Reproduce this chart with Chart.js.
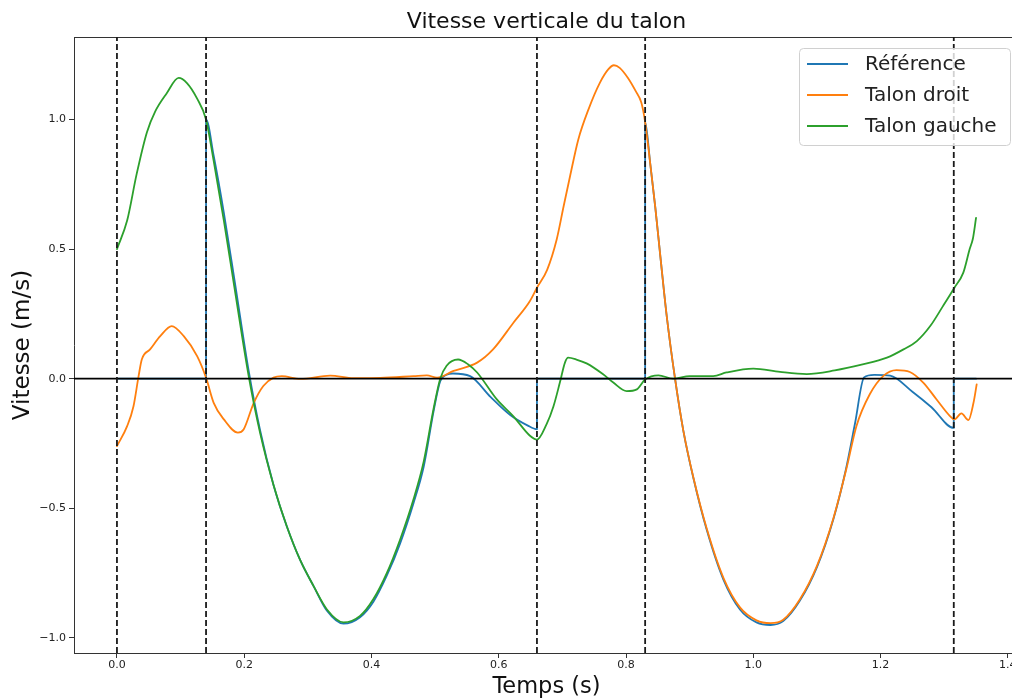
<!DOCTYPE html>
<html><head><meta charset="utf-8">
<script src="https://cdn.jsdelivr.net/npm/chart.js@4.4.0/dist/chart.umd.min.js"></script>
<style>
html,body{margin:0;padding:0;background:#fff;overflow:hidden;width:1012px;height:698px}
#wrap{position:absolute;left:0;top:0;width:1030px;height:698px}
</style>
</head><body><div id="wrap"><canvas id="c" width="1030" height="698"></canvas></div>
<script>
// ---- data ----
const chartTitle = 'Vitesse verticale du talon';
const xTitle = 'Temps (s)';
const yTitle = 'Vitesse (m/s)';
const seriesLabels = ['Référence', 'Talon droit', 'Talon gauche'];
const xTicks = [0.0, 0.2, 0.4, 0.6, 0.8, 1.0, 1.2, 1.4];
const yTicks = [-1.0, -0.5, 0.0, 0.5, 1.0];
const eventTimes = [0, 0.14, 0.66, 0.83, 1.315];
const zeroLevel = 0;

const tRef = [0, 0.14, 0.14, 0.152, 0.168, 0.186, 0.207, 0.225, 0.246, 0.267, 0.288, 0.309, 0.330, 0.356, 0.382, 0.403, 0.424, 0.445, 0.466, 0.482, 0.498, 0.508, 0.518, 0.528, 0.555, 0.587, 0.618, 0.645, 0.66,
  0.66, 0.83, 0.83, 0.838, 0.846, 0.854, 0.864, 0.877, 0.89, 0.906, 0.927, 0.953, 0.979, 1.005, 1.027, 1.047, 1.073, 1.10, 1.126, 1.145, 1.16, 1.174, 1.19, 1.215, 1.25, 1.28, 1.315, 1.315, 1.35];
const vRef = [0, 0, 1.0, 0.86, 0.64, 0.36, 0.03, -0.20, -0.41, -0.57, -0.70, -0.80, -0.895, -0.945, -0.92, -0.86, -0.76, -0.635, -0.48, -0.34, -0.12, -0.01, 0.015, 0.02, 0.01, -0.07, -0.14, -0.18, -0.195,
  0, 0, 0.99, 0.83, 0.66, 0.47, 0.24, 0.0, -0.20, -0.385, -0.585, -0.775, -0.89, -0.94, -0.95, -0.935, -0.857, -0.727, -0.54, -0.355, -0.17, 0.005, 0.015, 0.012, -0.05, -0.11, -0.19, 0, 0];

const tDroit = [0, 0.016, 0.026, 0.034, 0.039, 0.052, 0.068, 0.086, 0.105, 0.126, 0.14, 0.152, 0.168, 0.19, 0.199, 0.215, 0.23, 0.246, 0.259, 0.288, 0.335, 0.372, 0.414, 0.466, 0.487, 0.503, 0.529, 0.566, 0.591, 0.623, 0.649, 0.66, 0.676, 0.691, 0.702, 0.712, 0.725, 0.741, 0.759, 0.772, 0.781, 0.79, 0.803, 0.815, 0.824, 0.83,
  0.838, 0.846, 0.854, 0.864, 0.877, 0.89, 0.906, 0.927, 0.953, 0.979, 1.005, 1.027, 1.047, 1.073, 1.10, 1.126, 1.147, 1.162, 1.183, 1.204, 1.225, 1.246, 1.267, 1.288, 1.309, 1.316, 1.327, 1.338, 1.346, 1.351];
const vDroit = [-0.26, -0.183, -0.106, 0.01, 0.074, 0.113, 0.164, 0.203, 0.164, 0.087, 0.004, -0.093, -0.157, -0.208, -0.196, -0.093, -0.028, 0.004, 0.01, -0.001, 0.012, 0.002, 0.003, 0.01, 0.013, 0.004, 0.03, 0.062, 0.113, 0.216, 0.30, 0.351, 0.42, 0.537, 0.666, 0.781, 0.923, 1.039, 1.142, 1.193, 1.209, 1.199, 1.16, 1.11, 1.065, 0.99,
  0.83, 0.66, 0.47, 0.24, 0.0, -0.20, -0.383, -0.58, -0.768, -0.882, -0.932, -0.943, -0.93, -0.852, -0.722, -0.537, -0.34, -0.183, -0.06, 0.01, 0.033, 0.026, -0.015, -0.08, -0.144, -0.157, -0.134, -0.16, -0.093, -0.022];

const tGauche = [0, 0.016, 0.031, 0.047, 0.060, 0.078, 0.097, 0.110, 0.126, 0.14, 0.152, 0.168, 0.186, 0.207, 0.225, 0.246, 0.267, 0.288, 0.309, 0.330, 0.356, 0.382, 0.403, 0.424, 0.445, 0.466, 0.482, 0.498, 0.508, 0.518, 0.536, 0.552, 0.566, 0.597, 0.623, 0.649, 0.66, 0.675, 0.686, 0.696, 0.704, 0.709, 0.722, 0.738, 0.764, 0.78, 0.801, 0.817, 0.83,
  0.851, 0.874, 0.90, 0.937, 0.958, 1.0, 1.042, 1.084, 1.128, 1.17, 1.21, 1.236, 1.257, 1.278, 1.298, 1.316, 1.33, 1.34, 1.345, 1.35];
const vGauche = [0.50, 0.61, 0.79, 0.95, 1.03, 1.10, 1.16, 1.14, 1.08, 1.0, 0.84, 0.61, 0.33, 0.01, -0.21, -0.41, -0.57, -0.70, -0.80, -0.89, -0.94, -0.915, -0.85, -0.75, -0.62, -0.465, -0.32, -0.11, 0.0, 0.05, 0.074, 0.055, 0.024, -0.08, -0.145, -0.22, -0.235, -0.176, -0.106, -0.015, 0.062, 0.081, 0.074, 0.059, 0.017, -0.015, -0.048, -0.041, -0.003,
  0.013, 0.0, 0.01, 0.01, 0.024, 0.039, 0.026, 0.018, 0.032, 0.054, 0.081, 0.113, 0.145, 0.203, 0.28, 0.351, 0.409, 0.50, 0.54, 0.62];

// ---- chart ----
const FAM = '"DejaVu Sans", sans-serif';
const toXY = (t, v) => t.map((x, i) => ({x: x, y: v[i]}));
const fmt = v => Number(v).toFixed(1).replace('-', '\u2212');

const refLines = {
  id: 'refLines',
  afterDatasetsDraw(chart) {
    const {ctx, chartArea: ca, scales} = chart;
    const xs = scales.x, ys = scales.y;
    ctx.save();
    ctx.beginPath(); ctx.rect(ca.left, ca.top, ca.right - ca.left, ca.bottom - ca.top); ctx.clip();
    ctx.strokeStyle = '#000'; ctx.lineWidth = 1.8; ctx.setLineDash([]);
    const y0 = ys.getPixelForValue(zeroLevel);
    ctx.beginPath(); ctx.moveTo(ca.left, y0); ctx.lineTo(ca.right, y0); ctx.stroke();
    ctx.strokeStyle = '#1a1a1a'; ctx.lineWidth = 1.8; ctx.setLineDash([6, 3]);
    eventTimes.forEach(t => {
      const px = xs.getPixelForValue(t);
      ctx.beginPath(); ctx.moveTo(px, ca.bottom); ctx.lineTo(px, ca.top); ctx.stroke();
    });
    ctx.restore();
  }
};

const legendBox = {
  id: 'legendBox',
  afterDraw(chart) {
    const {ctx, chartArea: ca} = chart;
    const w = 211, h = 97;
    const bx = ca.right - 9 - w, by = ca.top + 11;
    ctx.save();
    ctx.setLineDash([]);
    ctx.fillStyle = 'rgba(255,255,255,0.8)';
    ctx.strokeStyle = '#d0d0d0'; ctx.lineWidth = 1;
    ctx.beginPath();
    if (ctx.roundRect) ctx.roundRect(bx + 0.5, by + 0.5, w, h, 4); else ctx.rect(bx + 0.5, by + 0.5, w, h);
    ctx.fill(); ctx.stroke();
    ctx.font = '20px ' + FAM;
    ctx.textBaseline = 'middle'; ctx.textAlign = 'left';
    chart.data.datasets.forEach((ds, i) => {
      const ry = by + 16 + i * 31;
      ctx.strokeStyle = ds.borderColor; ctx.lineWidth = 2;
      ctx.beginPath(); ctx.moveTo(bx + 8, ry); ctx.lineTo(bx + 49, ry); ctx.stroke();
      ctx.fillStyle = '#222';
      ctx.fillText(ds.label, bx + 66, ry + 1);
    });
    ctx.restore();
  }
};

const XMIN = -0.0675, XMAX = 1.4175, YMIN = -1.058, YMAX = 1.318;

new Chart(document.getElementById('c').getContext('2d'), {
  type: 'line',
  data: {
    datasets: [
      {label: seriesLabels[0], data: toXY(tRef, vRef), borderColor: '#1f77b4', order: 3},
      {label: seriesLabels[1], data: toXY(tDroit, vDroit), borderColor: '#ff7f0e', order: 2},
      {label: seriesLabels[2], data: toXY(tGauche, vGauche), borderColor: '#2ca02c', order: 1}
    ]
  },
  options: {
    responsive: false, animation: false, devicePixelRatio: 1,
    elements: {
      point: {radius: 0, hoverRadius: 0},
      line: {borderWidth: 1.8, cubicInterpolationMode: 'monotone', fill: false, borderCapStyle: 'round', borderJoinStyle: 'round'}
    },
    layout: {padding: {left: 0, right: 11, top: 0, bottom: 0}},
    plugins: {legend: {display: false}, title: {display: false}, tooltip: {enabled: false}},
    scales: {
      x: {
        type: 'linear', position: 'bottom', min: XMIN, max: XMAX,
        afterBuildTicks: s => { s.ticks = xTicks.map(v => ({value: v})); },
        afterFit: s => { s.height = 45; },
        ticks: {font: {family: FAM, size: 11}, color: '#222', padding: 1, callback: fmt, maxRotation: 0, autoSkip: false},
        grid: {display: true, drawOnChartArea: false, drawTicks: true, tickLength: 5, color: '#333', tickWidth: 1},
        border: {display: true, color: '#333', width: 1},
        title: {display: true, text: xTitle, font: {family: FAM, size: 22.5, lineHeight: 1}, color: '#111', padding: {top: 0, bottom: 0}}
      },
      x2: {
        type: 'linear', position: 'top', min: XMIN, max: XMAX,
        afterFit: s => { s.height = 37; },
        ticks: {display: false},
        grid: {display: false},
        border: {display: true, color: '#333', width: 1},
        title: {display: true, text: chartTitle, font: {family: FAM, size: 22, lineHeight: 1}, color: '#111', padding: {top: 11.5, bottom: 0}}
      },
      y: {
        type: 'linear', position: 'left', min: YMIN, max: YMAX,
        afterBuildTicks: s => { s.ticks = yTicks.map(v => ({value: v})); },
        afterFit: s => { s.width = 74; },
        ticks: {font: {family: FAM, size: 11}, color: '#222', padding: 3, callback: fmt, autoSkip: false},
        grid: {display: true, drawOnChartArea: false, drawTicks: true, tickLength: 5, color: '#333', tickWidth: 1},
        border: {display: true, color: '#333', width: 1},
        title: {display: true, text: yTitle, font: {family: FAM, size: 23, lineHeight: 1}, color: '#111', padding: {top: 12, bottom: 0}}
      }
    }
  },
  plugins: [refLines, legendBox]
});
</script>
</body></html>
